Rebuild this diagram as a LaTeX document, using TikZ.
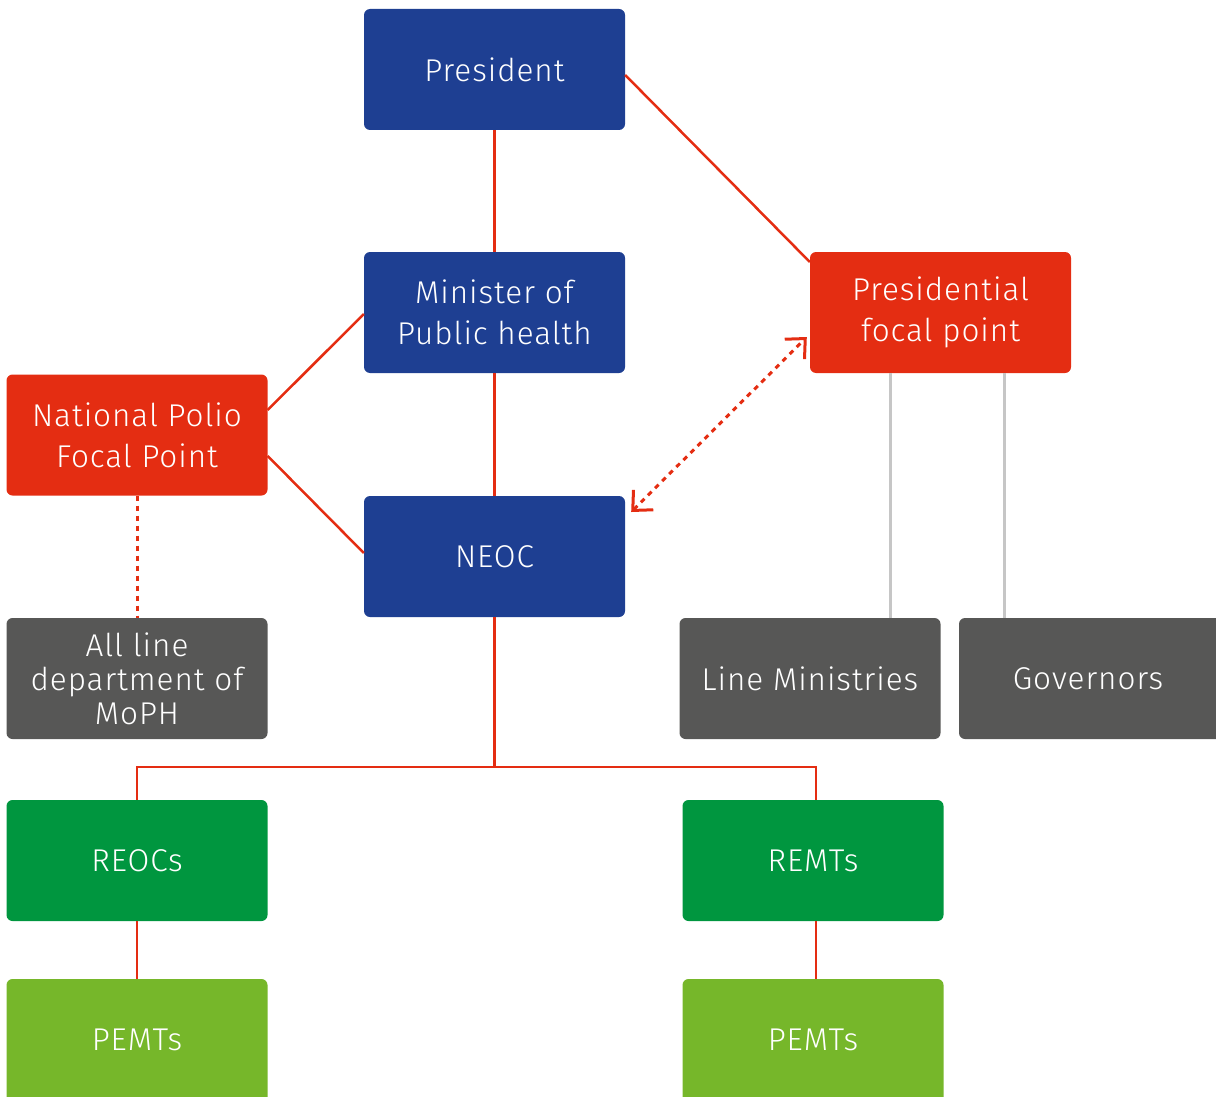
\documentclass[tikz,border=0pt]{standalone}
\usepackage{fontspec}
\setmainfont{Fira Sans Light}[LetterSpace=3]
\usetikzlibrary{arrows.meta}
\definecolor{cblue}{HTML}{1E3F92}
\definecolor{cred}{HTML}{E42D12}
\definecolor{cgray}{HTML}{575756}
\definecolor{cgreen}{HTML}{00963F}
\definecolor{clgreen}{HTML}{76B72A}
\definecolor{cline}{HTML}{C6C6C6}
\begin{document}
\begin{tikzpicture}[x=1pt,y=-1pt,
  lbl/.style={text=white, align=center, font=\fontsize{31.5}{41}\selectfont},
  box/.style={lbl, rounded corners=6pt, minimum width=261pt, minimum height=121pt, inner sep=0pt},
  bluebox/.style={box, fill=cblue},
  redbox/.style={box, fill=cred},
  graybox/.style={box, fill=cgray},
  greenbox/.style={box, fill=cgreen},
  lgreenbox/.style={box, fill=clgreen},
  link/.style={draw=cred, line width=2.5pt},
  glink/.style={draw=cline, line width=3pt},
  dlink/.style={draw=cred, line width=3pt, dash pattern=on 5pt off 5pt},
  darrow/.style={dlink, {Straight Barb[length=15pt,width=28pt,line width=3pt]}-{Straight Barb[length=15pt,width=28pt,line width=3pt]}}
]
\useasboundingbox (0,0) rectangle (1216,1097);
\node[bluebox] (pres) at (494.5,69.5) {President};
\node[bluebox] (min) at (494.5,312.5) {Minister of\\Public health};
\node[bluebox] (neoc) at (494.5,556.5) {NEOC};
\node[redbox] (npfp) at (137,435) {National Polio\\Focal Point};
\node[graybox, font=\fontsize{31.5}{34}\selectfont] (allline) at (137,678.5) {All line\\department of\\MoPH};
\node[redbox] (pfp) at (940.5,312.5) {Presidential\\focal point};
\node[graybox] (linemin) at (810,678.5) {Line Ministries};
\node[graybox, minimum width=280pt] (gov) at (1099,678.5) {};
\node[lbl] (govt) at (1088,678.5) {Governors};
\node[greenbox] (reocs) at (137,860.5) {REOCs};
\node[greenbox] (remts) at (813,860.5) {REMTs};
\node[lgreenbox, minimum height=140pt] (pemt1) at (137,1049) {};
\node[lgreenbox, minimum height=140pt] (pemt2) at (813,1049) {};
\node[lbl] (pemt1t) at (137,1040) {PEMTs};
\node[lbl] (pemt2t) at (813,1040) {PEMTs};

\coordinate (j) at (494.5,767);
\coordinate (jl) at (137,767);
\coordinate (jr) at (816,767);

\draw[link] (pres.south) -- (min.north);
\draw[link] (min.south) -- (neoc.north);
\draw[link] (pres.east |- 0,75) -- (pfp.north west |- 0,262);
\draw[link] (npfp.east |- 0,410) -- (min.west |- 0,314);
\draw[link] (npfp.east |- 0,456) -- (neoc.west |- 0,553);
\draw[dlink] (npfp.south) -- (allline.north);
\draw[darrow] ([xshift=6pt]neoc.east |- 0,512) -- ([xshift=-3pt]pfp.west |- 0,337);
\draw[glink] (pfp.south -| 890,0) -- (linemin.north -| 890,0);
\draw[glink] (pfp.south -| 1004,0) -- (gov.north -| 1004,0);
\draw[link] (neoc.south) -- (j);
\draw[link] (reocs.north) -- (jl) -- (jr) -- (remts.north -| jr);
\draw[link] (reocs.south) -- (pemt1.north);
\draw[link] (remts.south -| jr) -- (pemt2.north -| jr);
\end{tikzpicture}
\end{document}
